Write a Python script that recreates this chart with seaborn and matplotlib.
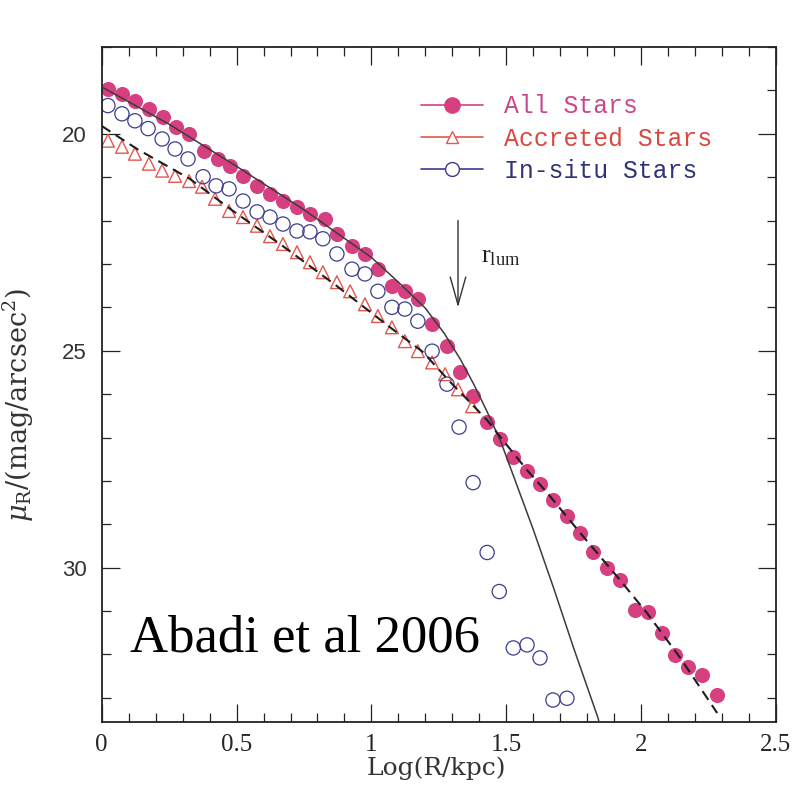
import matplotlib
matplotlib.use("Agg")
import matplotlib.pyplot as plt
from matplotlib.lines import Line2D
from matplotlib.ticker import FixedLocator, MultipleLocator
import seaborn as sns

# surface brightness profiles (x = log R/kpc, y = mag/arcsec^2)
all_x = [0.023, 0.075, 0.123, 0.175, 0.227, 0.276, 0.324, 0.379, 0.431, 0.476,
         0.524, 0.576, 0.624, 0.672, 0.724, 0.772, 0.828, 0.872, 0.928, 0.976,
         1.024, 1.076, 1.124, 1.172, 1.225, 1.280, 1.328, 1.377, 1.429, 1.477,
         1.525, 1.577, 1.625, 1.673, 1.725, 1.773, 1.822, 1.873, 1.921, 1.977,
         2.025, 2.077, 2.125, 2.173, 2.226, 2.282]
all_mu = [18.96, 19.08, 19.24, 19.42, 19.61, 19.84, 20.00, 20.39, 20.58, 20.74,
          20.97, 21.20, 21.39, 21.55, 21.69, 21.85, 21.96, 22.31, 22.59, 22.77,
          23.12, 23.51, 23.63, 23.81, 24.39, 24.90, 25.50, 26.05, 26.65, 27.04,
          27.46, 27.78, 28.08, 28.43, 28.82, 29.19, 29.63, 30.00, 30.28, 30.97,
          31.02, 31.50, 32.01, 32.29, 32.47, 32.93]

acc_x = [0.023, 0.075, 0.123, 0.175, 0.224, 0.272, 0.324, 0.372, 0.420, 0.472,
         0.524, 0.576, 0.624, 0.672, 0.724, 0.772, 0.820, 0.872, 0.921, 0.976,
         1.024, 1.076, 1.124, 1.172, 1.225, 1.273, 1.321, 1.373]
acc_mu = [20.16, 20.30, 20.46, 20.69, 20.85, 20.97, 21.09, 21.22, 21.50, 21.78,
          21.92, 22.12, 22.36, 22.54, 22.73, 22.96, 23.19, 23.42, 23.63, 23.93,
          24.20, 24.46, 24.78, 25.01, 25.27, 25.54, 25.89, 26.28]

insitu_x = [0.023, 0.075, 0.123, 0.172, 0.224, 0.272, 0.320, 0.376, 0.424, 0.472,
            0.524, 0.576, 0.624, 0.672, 0.724, 0.772, 0.820, 0.872, 0.928, 0.976,
            1.024, 1.076, 1.124, 1.172, 1.225, 1.280, 1.325, 1.377, 1.429, 1.474,
            1.526, 1.577, 1.625, 1.673, 1.725]
insitu_mu = [19.35, 19.54, 19.70, 19.88, 20.12, 20.35, 20.58, 20.99, 21.20, 21.27,
             21.55, 21.80, 21.92, 22.08, 22.24, 22.26, 22.42, 22.77, 23.12, 23.23,
             23.63, 24.00, 24.04, 24.32, 25.01, 25.77, 26.76, 28.04, 29.65, 30.55,
             31.85, 31.78, 32.08, 33.05, 33.01]

# fitted curves
solid_x = [0.00, 0.25, 0.50, 0.75, 1.00, 1.10, 1.20, 1.27, 1.33, 1.38,
           1.43, 1.48, 1.60, 1.674, 1.748, 1.840, 1.851]
solid_mu = [18.92, 19.78, 20.75, 21.75, 22.85, 23.42, 24.02, 24.60, 25.20, 25.78,
            26.42, 27.10, 29.12, 30.44, 31.82, 33.46, 33.74]

dash_x = [0.000, 0.131, 0.327, 0.476, 0.672, 0.872, 1.069, 1.191, 1.292, 1.355,
          1.429, 1.477, 1.577, 1.651, 1.773, 1.921, 2.021, 2.143, 2.282]
dash_mu = [19.82, 20.35, 21.04, 21.73, 22.59, 23.51, 24.46, 25.03, 25.72, 26.12,
           26.60, 26.98, 27.75, 28.27, 29.19, 30.28, 31.04, 32.06, 33.35]

x_ticks = [0, 0.5, 1, 1.5, 2, 2.5]
x_tick_labels = ["0", "0.5", "1", "1.5", "2", "2.5"]
y_ticks = [20, 25, 30]
y_tick_labels = ["20", "25", "30"]

series_names = ["All Stars", "Accreted Stars", "In-situ Stars"]

c_all = "#d63f80"
c_acc = "#e4574d"
c_ins = "#3c3d8e"
frame = "#222222"

sns.set_style("ticks")
plt.rcParams["font.family"] = ["Liberation Serif", "DejaVu Serif"]
plt.rcParams["mathtext.fontset"] = "dejavuserif"

fig = plt.figure(figsize=(7.99, 7.98), dpi=100)
ax = fig.add_axes([0.1273, 0.0956, 0.8439, 0.8455])

sns.scatterplot(x=all_x, y=all_mu, marker="o", s=118, color=c_all,
                edgecolor=c_all, linewidth=0, ax=ax, zorder=2)
sns.scatterplot(x=acc_x, y=acc_mu, marker="^", s=85, color=c_acc, ax=ax, zorder=2)
coll = ax.collections[-1]
coll.set_facecolor("none")
coll.set_edgecolor(c_acc)
coll.set_linewidth(1.0)
sns.scatterplot(x=insitu_x, y=insitu_mu, marker="o", s=105, color=c_ins, ax=ax, zorder=2)
coll = ax.collections[-1]
coll.set_facecolor("none")
coll.set_edgecolor(c_ins)
coll.set_linewidth(0.9)

sns.lineplot(x=solid_x, y=solid_mu, sort=False, color="#3c3c3c", lw=1.1, ax=ax, zorder=3)
sns.lineplot(x=dash_x, y=dash_mu, sort=False, color="#1e1e1e", lw=1.5,
             ls=(0, (5, 3)), ax=ax, zorder=3)

# r_lum marker
ax.annotate("", xy=(1.321, 24.0), xytext=(1.321, 22.0),
            arrowprops=dict(arrowstyle="->,head_length=1.0,head_width=0.28",
                            color="#333333", lw=1.0, mutation_scale=20,
                            shrinkA=0, shrinkB=0))
ax.text(1.405, 22.85, r"$\mathregular{r_{lum}}$", fontsize=19, color="#222222",
        ha="left", va="center")

ax.set_xlim(0, 2.5)
ax.set_ylim(33.55, 18)
ax.xaxis.set_major_locator(FixedLocator(x_ticks))
ax.xaxis.set_minor_locator(MultipleLocator(0.1))
ax.yaxis.set_major_locator(FixedLocator(y_ticks))
ax.yaxis.set_minor_locator(MultipleLocator(1))
ax.set_xticklabels(x_tick_labels, fontsize=18, family="Liberation Serif")
ax.set_yticklabels(y_tick_labels, fontsize=16, family="Liberation Sans", color="#333333")
ax.tick_params(which="both", direction="in", top=True, right=True,
               color=frame, width=0.9)
ax.tick_params(which="major", length=13)
ax.tick_params(which="minor", length=6.5)
ax.tick_params(axis="x", pad=9)
ax.tick_params(axis="y", pad=11)
for sp in ax.spines.values():
    sp.set_linewidth(1.3)
    sp.set_color(frame)

ax.set_xlabel("Log(R/kpc)", fontsize=18, color="#333333", family="DejaVu Serif")
ax.xaxis.set_label_coords(0.497, -0.052)
ax.set_ylabel(r"$\mu_{\rm R}$/(mag/arcsec$^2$)", fontsize=19.5, color="#333333",
              family="DejaVu Serif")
ax.yaxis.set_label_coords(-0.098, 0.47)

handles = [
    Line2D([], [], color=c_all, lw=1.2, marker="o", ms=11, mfc=c_all, mec=c_all),
    Line2D([], [], color=c_acc, lw=1.2, marker="^", ms=9, mfc="white", mec=c_acc, mew=1.0),
    Line2D([], [], color=c_ins, lw=1.2, marker="o", ms=10, mfc="white", mec=c_ins, mew=1.0),
]
leg = ax.legend(handles, series_names, loc="upper left",
                bbox_to_anchor=(0.474, 0.930), frameon=False, handlelength=2.5,
                handletextpad=0.85, labelspacing=0.34, borderpad=0, borderaxespad=0,
                prop=dict(family="Liberation Mono", size=17.8))
for txt, c in zip(leg.get_texts(), ["#c9478c", "#d9483f", "#2f3478"]):
    txt.set_color(c)

fig.text(130 / 799, 1 - 652 / 798, "Abadi et al 2006", fontsize=38,
         family="Liberation Serif", color="black", ha="left", va="baseline")

fig.savefig("out.png", dpi=100)
